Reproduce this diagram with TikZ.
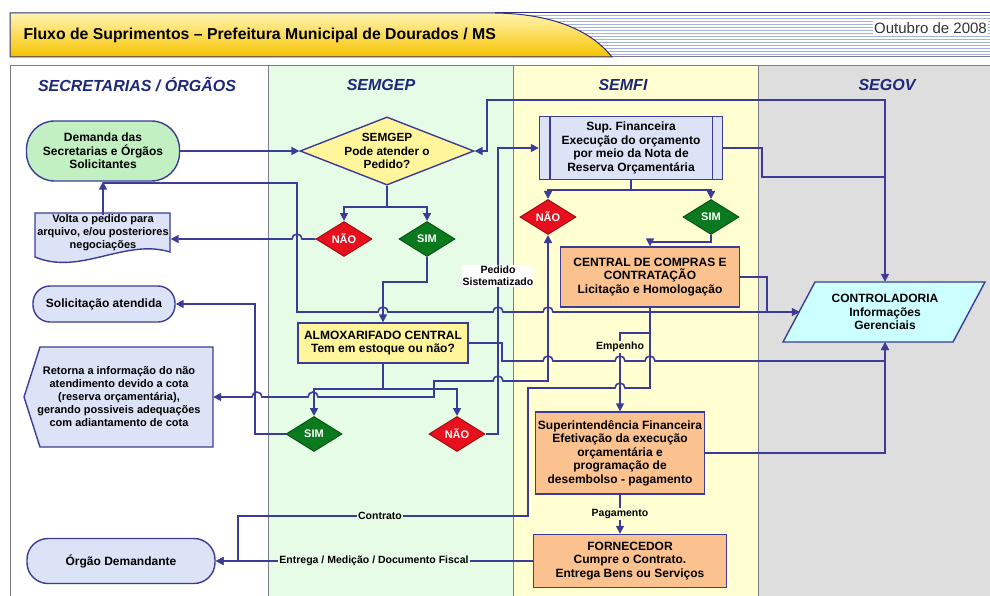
\documentclass[tikz,border=0pt]{standalone}
\usepackage{fontspec}
\setmainfont{Liberation Sans}
\usetikzlibrary{arrows.meta,shapes.geometric}

\definecolor{lineblue}{HTML}{3C3C96}
\definecolor{framegray}{HTML}{7C7C88}
\definecolor{headblue}{HTML}{1E2878}
\definecolor{lanegreen}{HTML}{E6FCE6}
\definecolor{laneyellow}{HTML}{FFFFD2}
\definecolor{lanegray}{HTML}{DEDEDE}
\definecolor{mint}{HTML}{C2F0C2}
\definecolor{lavender}{HTML}{DDE3F6}
\definecolor{paleyellow}{HTML}{FFF59A}
\definecolor{peach}{HTML}{FBC18E}
\definecolor{cyanbox}{HTML}{CCFFFF}
\definecolor{redno}{HTML}{E8101C}
\definecolor{greenyes}{HTML}{0B7A1E}
\definecolor{stripe}{HTML}{A4B4DC}
\definecolor{goldtop}{HTML}{FFF4B0}
\definecolor{goldbot}{HTML}{F6C300}

\tikzset{
    >={Triangle[length=8pt, width=8pt]},
    boxfont/.style={font=\fontsize{12}{13.5}\selectfont\bfseries},
    smallfont/.style={font=\fontsize{11}{13}\selectfont\bfseries},
    box/.style={boxfont, draw=lineblue, line width=1.4pt, align=center, inner sep=2pt},
    boxtext/.style={align=center, inner sep=0pt},
    shapeline/.style={draw=lineblue, line width=1.4pt},
    term/.style={rounded corners=#1},
    yesno/.style={diamond, draw=#1!70!black, line width=1pt, fill=#1, text=white,
        font=\fontsize{11}{13}\selectfont\bfseries, minimum width=56pt, minimum height=35pt, inner sep=0pt},
    lane/.style={draw=framegray, line width=1pt},
    lanehead/.style={font=\fontsize{16}{18}\selectfont\bfseries\itshape, text=headblue},
    link/.style={draw=lineblue, line width=1.6pt},
    flow/.style={link, ->},
    tag/.style={font=\fontsize{10.5}{12}\selectfont\bfseries, inner sep=1pt, fill=#1, align=center},
}

\begin{document}
\begin{tikzpicture}[x=1pt, y=-1pt]
        \useasboundingbox (0,0) rectangle (990,596);
        \fill[white] (0,0) rectangle (990,596);
        \foreach \yy in {15,18,...,55}
            \draw[stripe, line width=0.8pt] (495,\yy) -- (990,\yy);
        \draw[lineblue!80!black, line width=1pt] (495,13) -- (990,13);
        \draw[framegray, line width=1pt] (495,57) -- (990,57);
        \shade[top color=goldtop, bottom color=goldbot, draw=lineblue!80!black, line width=1pt]
            (10,13) -- (495,13) .. controls (565,14) and (597,38) .. (612,57) -- (10,57) -- cycle;
        \node[anchor=west, font=\fontsize{15.8}{18}\selectfont\bfseries] (title) at (20,35) {Fluxo de Suprimentos – Prefeitura Municipal de Dourados / MS};
        \node[anchor=east, font=\fontsize{15}{18}\selectfont, text=black!80, fill=white, inner sep=1pt] (date) at (988,28) {Outubro de 2008};

        \filldraw[lane, fill=white] (10,66) rectangle (268,600);
        \filldraw[lane, fill=lanegreen] (268,66) rectangle (513,600);
        \filldraw[lane, fill=laneyellow] (513,66) rectangle (758,600);
        \filldraw[lane, fill=lanegray] (758,66) rectangle (1000,600);
        \node[lanehead] (hsec) at (137,85) {SECRETARIAS / ÓRGÃOS};
        \node[lanehead] (hsemgep) at (381,85) {SEMGEP};
        \node[lanehead] (hsemfi) at (623,85) {SEMFI};
        \node[lanehead] (hsegov) at (887,85) {SEGOV};

        \filldraw[shapeline, fill=lavender] (35,213) -- (170,213) -- (170,252) .. controls (125,238) and (80,276) .. (35,257) -- cycle;
        \filldraw[shapeline, fill=lavender] (40,347) -- (213,347) -- (213,447) -- (40,447) -- (24,397) -- cycle;
        \filldraw[shapeline, fill=cyanbox] (815,282) -- (985,282) -- (953,342) -- (783,342) -- cycle;

        \node[box, term=28pt, fill=mint, minimum width=153pt, minimum height=60pt] (demanda) at (103,151) {Demanda das\\Secretarias e Órgãos\\Solicitantes};
        \node[boxtext, smallfont, minimum width=135pt] (volta) at (103,233) {Volta o pedido para\\arquivo, e/ou posteriores\\negociações};
        \node[box, diamond, aspect=2.55, inner sep=0pt, fill=paleyellow, font=\fontsize{11.8}{13.2}\selectfont\bfseries, minimum width=173pt, minimum height=68pt] (semgep) at (387,151) {SEMGEP\\Pode atender o\\Pedido?};
        \node[yesno=redno] (nao1) at (344,239) {NÃO};
        \node[yesno=greenyes] (sim1) at (427,239) {SIM};
        \node[box, fill=lavender, minimum width=183pt, minimum height=63pt] (supfin) at (631,148) {Sup.\ Financeira\\Execução do orçamento\\por meio da Nota de\\Reserva Orçamentária};
        \draw[shapeline] ([xshift=11pt]supfin.north west) -- ([xshift=11pt]supfin.south west);
        \draw[shapeline] ([xshift=-11pt]supfin.north east) -- ([xshift=-11pt]supfin.south east);
        \node[yesno=redno] (nao2) at (548,217) {NÃO};
        \node[yesno=greenyes] (sim2) at (711,217) {SIM};
        \node[box, fill=peach, minimum width=179pt, minimum height=60pt] (central) at (650,277) {CENTRAL DE COMPRAS E\\CONTRATAÇÃO\\Licitação e Homologação};
        \node[box, term=17pt, fill=lavender, minimum width=142pt, minimum height=36pt] (solic) at (104,304) {Solicitação atendida};
        \node[box, fill=paleyellow, minimum width=170pt, minimum height=40pt] (almox) at (383,343) {ALMOXARIFADO CENTRAL\\Tem em estoque ou não?};
        \node[boxtext, smallfont, minimum width=188pt] (retorna) at (119,397) {Retorna a informação do não\\atendimento devido a cota\\(reserva orçamentária),\\gerando possiveis adequações\\com adiantamento de cota};
        \node[yesno=greenyes] (sim3) at (314,434) {SIM};
        \node[yesno=redno] (nao3) at (457,434) {NÃO};
        \node[boxtext, boxfont, minimum width=170pt, minimum height=60pt] (ctrl) at (885,312) {CONTROLADORIA\\Informações\\Gerenciais};
        \node[box, fill=peach, minimum width=169pt, minimum height=82pt] (superint) at (620,453) {Superintendência Financeira\\Efetivação da execução\\orçamentária e\\programação de\\desembolso - pagamento};
        \node[box, fill=peach, minimum width=193pt, minimum height=53pt] (fornec) at (630,561) {FORNECEDOR\\Cumpre o Contrato.\\Entrega Bens ou Serviços};
        \node[box, term=21pt, fill=lavender, minimum width=188pt, minimum height=45pt] (orgao) at (121,561) {Órgão Demandante};

        \coordinate (jcc) at (767,312);
        \coordinate (jgov) at (885,177);
        \coordinate (jdem) at (103,183);

        \draw[flow] (demanda.east) -- (semgep.west);
        \draw[flow] (semgep.south) -- (387,207) -| (nao1.north);
        \draw[flow] (387,207) -| (sim1.north);
        \draw[flow] (nao1.west) -- (302,239) arc[start angle=0, end angle=180, radius=5pt] -- (volta.east |- nao1.west);
        \draw[flow] (volta.north) -- (demanda.south);
        \draw[flow] (sim1.south) -- (427,282) -| (almox.north);
        \draw[link] (jcc) -- (553,312) arc[start angle=0, end angle=180, radius=5pt] -- (503,312)
            arc[start angle=0, end angle=180, radius=5pt] -- (388,312)
            arc[start angle=0, end angle=180, radius=5pt] -- (297,312) -- (297,183) -- (jdem);
        \draw[flow] (jgov) -- (885,100) -- (487,100) |- (semgep.east);
        \draw[flow] (supfin.east) -| (762,177) -- (jgov) -- (ctrl.north);
        \draw[flow] (supfin.south) -- (631,190) -| (nao2.north);
        \draw[flow] (631,190) -| (sim2.north);
        \draw[flow] (sim2.south) -- (711,242) -| (central.north);
        \draw[flow] (central.east) -| (jcc) -- (ctrl.west);
        \draw[flow] (nao3.east) -| (498,148) -- (supfin.west);
        \draw[flow] (almox.south) -- (383,389) -| (sim3.north);
        \draw[flow] (383,389) -| (nao3.north);
        \draw[flow] (sim3.west) -| (255,304) -- (solic.east);
        \draw[link, <->] (retorna.east) -- (252,397) arc[start angle=180, end angle=0, radius=5pt]
            -- (308,397) arc[start angle=180, end angle=0, radius=5pt] -- (434,397) -- (434,381)
            -- (493,381) arc[start angle=180, end angle=0, radius=5pt] -- (548,381) -- (nao2.south);
        \draw[flow] (almox.east) -| (502,361) -- (543,361) arc[start angle=180, end angle=0, radius=5pt]
            -- (615,361) arc[start angle=180, end angle=0, radius=5pt]
            -- (645,361) arc[start angle=180, end angle=0, radius=5pt] -- (885,361) -- (ctrl.south);
        \draw[flow] (superint.east) -| (ctrl.south);
        \draw[flow] (central.south) -- (650,333) -| (superint.north);
        \draw[flow] (central.south) -- (650,388) -- (625,388) arc[start angle=0, end angle=180, radius=5pt]
            -- (528,388) -- (528,516) -- (238,516) |- (orgao.east);
        \draw[flow] (superint.south) -- (superint.south |- fornec.north);
        \draw[flow] (fornec.west) -- (orgao.east);

        \node[tag=white] (pedido) at (498,276) {Pedido\\Sistematizado};
        \node[tag=laneyellow] (empenho) at (620,347) {Empenho};
        \node[tag=laneyellow] (pagamento) at (620,514) {Pagamento};
        \node[tag=lanegreen] (contrato) at (380,516) {Contrato};
        \node[tag=lanegreen] (entrega) at (374,561) {Entrega / Medição / Documento Fiscal};
\end{tikzpicture}
\end{document}
